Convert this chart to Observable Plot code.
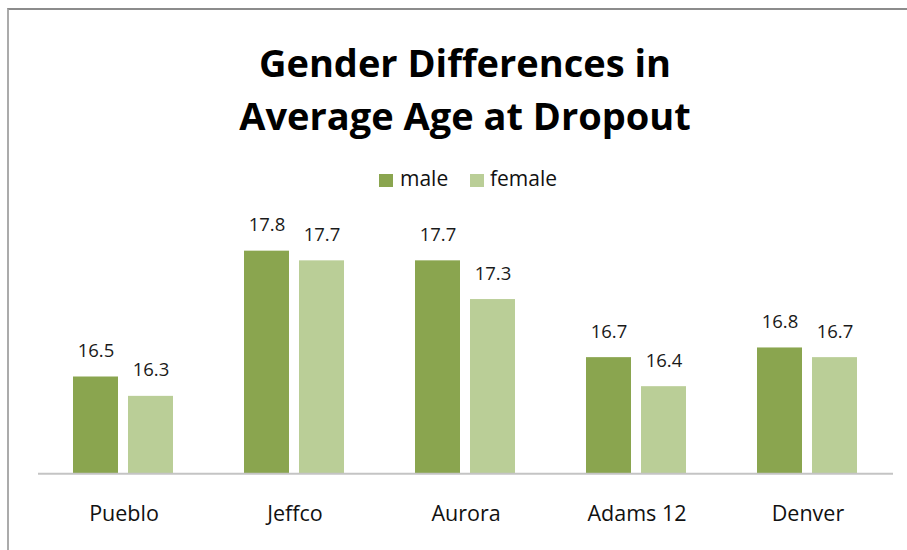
<!DOCTYPE html>
<html>
<head>
<meta charset="utf-8">
<script src="https://cdn.jsdelivr.net/npm/d3@7"></script>
<script src="https://cdn.jsdelivr.net/npm/@observablehq/plot@0.6"></script>
<style>
  html, body { margin: 0; padding: 0; background: #fff; }
  #wrap { position: relative; width: 907px; height: 550px; overflow: hidden; font-family: "Open Sans", sans-serif; }
  #frame { position: absolute; left: 7px; top: 8px; width: 920px; height: 560px;
           border-top: 2.5px solid #8c8c8c; border-left: 2.5px solid #ababab; }
  #title { position: absolute; left: 0; width: 930px; top: 36px; text-align: center;
           font-size: 38px; font-weight: 700; line-height: 53px; color: #000; }
  #legend { position: absolute; top: 168px; left: 0; width: 907px; height: 24px; font-size: 21px; line-height: 21px; color: #111; }
  #legend .sw { position: absolute; width: 14px; height: 13px; top: 6px; }
  #legend .lb { position: absolute; top: 0; }
  #chart { position: absolute; left: 0; top: 200px; }
</style>
</head>
<body>
<div id="wrap">
  <div id="frame"></div>
  <div id="title">Gender Differences in<br>Average Age at Dropout</div>
  <div id="legend"></div>
  <div id="chart"></div>
</div>
<script>
const districts = ["Pueblo", "Jeffco", "Aurora", "Adams 12", "Denver"];
const genders = ["male", "female"];
const maleAge = [16.5, 17.8, 17.7, 16.7, 16.8];
const femaleAge = [16.3, 17.7, 17.3, 16.4, 16.7];
const colors = ["#8AA54F", "#BACE97"];

const rows = [];
districts.forEach((d, i) => {
  rows.push({district: d, gender: "male", age: maleAge[i]});
  rows.push({district: d, gender: "female", age: femaleAge[i]});
});

// legend
const legend = document.getElementById("legend");
const legendPos = [{sw: 379, lb: 400}, {sw: 470, lb: 490}];
genders.forEach((g, i) => {
  const sw = document.createElement("div");
  sw.className = "sw"; sw.style.left = legendPos[i].sw + "px"; sw.style.background = colors[i];
  const lb = document.createElement("div");
  lb.className = "lb"; lb.style.left = legendPos[i].lb + "px"; lb.textContent = g;
  legend.appendChild(sw); legend.appendChild(lb);
});

const chart = Plot.plot({
  width: 907,
  height: 350,
  marginLeft: 37,
  marginRight: 13,
  marginTop: 31.3,
  marginBottom: 76.7,
  style: {fontFamily: "Open Sans, sans-serif", fontSize: "21.5px", color: "#111", background: "transparent"},
  fx: {domain: districts, padding: 0, label: null, axis: "bottom", tickSize: 0, tickPadding: 32},
  x: {domain: genders, paddingInner: 0.179, paddingOuter: 0.62, axis: null},
  y: {domain: [15.5, 18], axis: null},
  color: {domain: genders, range: colors},
  marks: [
    Plot.barY(rows, {fx: "district", x: "gender", y1: 15.5, y2: "age", fill: "gender"}),
    Plot.ruleY([15.5], {stroke: "#c4c4c4", strokeWidth: 2}),
    Plot.text(rows, {fx: "district", x: "gender", y: "age", text: d => d.age.toFixed(1),
      lineAnchor: "bottom", dy: -20, fontSize: 18.5, fill: "#1a1a1a"})
  ]
});
document.getElementById("chart").appendChild(chart);
</script>
</body>
</html>
